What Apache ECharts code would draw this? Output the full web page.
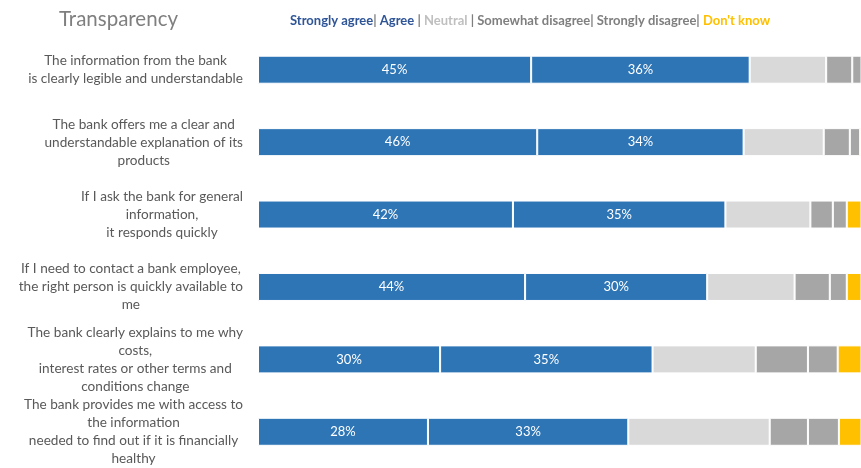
<!DOCTYPE html>
<html>
<head>
<meta charset="utf-8">
<script src="https://cdn.jsdelivr.net/npm/echarts@6/dist/echarts.min.js"></script>
<style>
  html, body { margin: 0; padding: 0; background: #fff; }
  #chart { width: 861px; height: 468px; }
</style>
</head>
<body>
<div id="chart"></div>
<script>
// Survey statements, top to bottom
const categories = [
  'The information from the bank\nis clearly legible and understandable',
  'The bank offers me a clear and\nunderstandable explanation of its\nproducts',
  'If I ask the bank for general\ninformation,\nit responds quickly',
  'If I need to contact a bank employee,\nthe right person is quickly available to\nme',
  'The bank clearly explains to me why\ncosts,\ninterest rates or other terms and\nconditions change',
  'The bank provides me with access to\nthe information\nneeded to find out if it is financially\nhealthy'
];

// Share of answers per statement (%)
const stronglyAgree     = [45, 46, 42, 44, 30, 28];
const agree             = [36, 34, 35, 30, 35, 33];
const neutral           = [12.6, 13.2, 14.0, 14.4, 17.0, 23.3];
const somewhatDisagree  = [4.3, 4.3, 3.7, 5.8, 8.6, 6.3];
const stronglyDisagree  = [2.1, 1.7, 2.3, 2.8, 4.9, 5.1];
const dontKnow          = [0, 0.8, 3.0, 3.0, 4.5, 4.3];

// The plot is cut at the right page edge, so the visible axis ends a little before 100 %
const AXIS_MAX = 99.34;

const FONT = 'Lato';

function seg(name, data, color, withLabel) {
  return {
    name: name,
    type: 'bar',
    stack: 'total',
    barWidth: 28,
    clip: true,
    data: data,
    itemStyle: { color: color, borderColor: '#ffffff', borderWidth: 1 },
    label: withLabel ? {
      show: true,
      position: 'inside',
      formatter: '{c}%',
      color: '#ffffff',
      fontFamily: FONT,
      fontSize: 13
    } : { show: false },
    emphasis: { disabled: true },
    silent: true
  };
}

const chart = echarts.init(document.getElementById('chart'), null, { renderer: 'canvas' });

const legendRich = {
  b: { fontFamily: FONT, fontSize: 13, fontWeight: 'bold', color: '#2f5597' },
  s: { fontFamily: FONT, fontSize: 13, fontWeight: 'bold', color: '#7f7f7f' },
  n: { fontFamily: FONT, fontSize: 13, fontWeight: 'bold', color: '#bfbfbf' },
  g: { fontFamily: FONT, fontSize: 13, fontWeight: 'bold', color: '#7f7f7f' },
  y: { fontFamily: FONT, fontSize: 13, fontWeight: 'bold', color: '#ffc000' }
};

chart.setOption({
  animation: false,
  backgroundColor: '#ffffff',
  title: [
    {
      text: 'Transparency',
      left: 54,
      top: 4,
      textStyle: { fontFamily: FONT, fontSize: 20.5, fontWeight: 'normal', color: '#7f7f7f' }
    },
    {
      text: '{b|Strongly agree}{s|| }{b|Agree }{s|| }{n|Neutral }{s|| }{g|Somewhat disagree}{s|| }{g|Strongly disagree}{s|| }{y|Don\'t know}',
      left: 285,
      top: 9,
      textStyle: { fontFamily: FONT, fontSize: 13, fontWeight: 'bold', rich: legendRich }
    }
  ],
  grid: { left: 258, top: 33.5, right: 0, height: 438.6, containLabel: false },
  xAxis: {
    type: 'value',
    min: 0,
    max: AXIS_MAX,
    show: false
  },
  yAxis: {
    type: 'category',
    inverse: true,
    data: categories,
    axisLine: { show: false },
    axisTick: { show: false },
    splitLine: { show: false },
    axisLabel: {
      margin: 15,
      interval: 0,
      formatter: function (v) { return '{c|' + v + '}'; },
      rich: {
        c: { fontFamily: FONT, fontSize: 13.6, color: '#595959', align: 'center', lineHeight: 18 }
      }
    }
  },
  series: [
    seg('Strongly agree', stronglyAgree, '#2e75b6', true),
    seg('Agree', agree, '#2e75b6', true),
    seg('Neutral', neutral, '#d9d9d9', false),
    seg('Somewhat disagree', somewhatDisagree, '#a6a6a6', false),
    seg('Strongly disagree', stronglyDisagree, '#a6a6a6', false),
    seg("Don't know", dontKnow, '#ffc000', false)
  ]
});
</script>
</body>
</html>
